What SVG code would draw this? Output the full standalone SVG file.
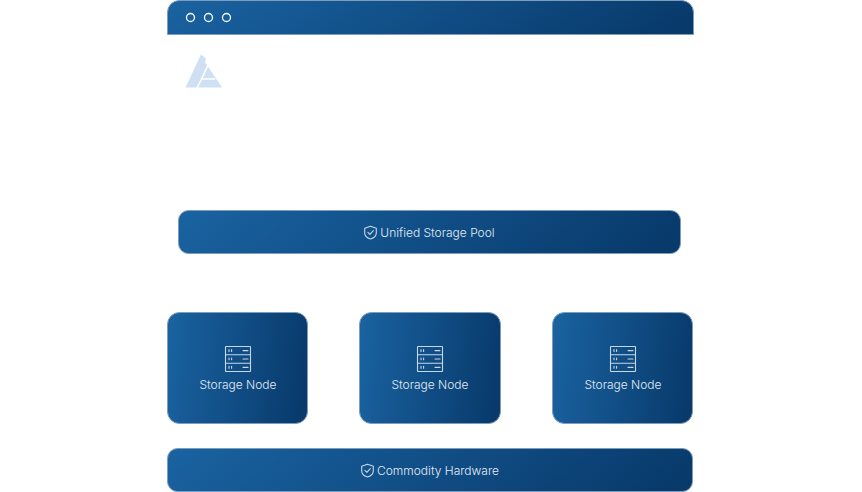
<svg xmlns="http://www.w3.org/2000/svg" width="862" height="492" viewBox="0 0 862 492">
<style>
.bar{fill:url(#g);stroke:#7e9dbd;stroke-width:1}
.ic{fill:none;stroke:#c5d8ea;stroke-width:1.1;stroke-linecap:round;stroke-linejoin:round}
.dot{fill:none;stroke:#fff;stroke-width:1.3}
.cut{fill:none;stroke:#fff;stroke-width:1.6}
text{font-family:Inter,"Liberation Sans",sans-serif;font-size:12px;font-weight:300;fill:#e2ecf6;text-anchor:middle}
</style>
<defs>
<linearGradient id="g" x1="0" y1="0.45" x2="1" y2="0.55"><stop offset="0" stop-color="#19619f"/><stop offset="1" stop-color="#083a6b"/></linearGradient>
<g id="srv" class="ic">
<rect x="0.5" y="0.5" width="25" height="25" rx="0.5"/>
<path d="M0.5 8.800H25.500M0.500 17.200H25.500M18 4.600H23M18 13H23M18 21.400H23M4 3.600V5.400M6.600 3.600V5.400M4 12V13.800M6.600 12V13.800M4 20.400V22.200M6.600 20.400V22.200"/>
</g>
<g id="sh" class="ic">
<path d="M7 0.800L12.800 2.800V7.400C12.800 10.400 10.200 12.400 7 13.500C3.800 12.400 1.200 10.400 1.200 7.400V2.800Z"/>
<path d="M4.400 6.800L6.400 8.800L9.800 5.200"/>
</g>
</defs>
<g id="connectors"/>
<g id="window">
<path class="bar" d="M167.500 34.500V12.500A12 12 0 0 1 179.500 .5H681.500A12 12 0 0 1 693.500 12.500V34.500Z"/>
<circle class="dot" cx="190.500" cy="17.500" r="4"/>
<circle class="dot" cx="208.500" cy="17.500" r="4"/>
<circle class="dot" cx="226.500" cy="17.500" r="4"/>
</g>
<g id="logo">
<path fill="#cfe0f2" d="M201 54.500L206 58.500L205 62L222 87.500H185.500Z"/>
<path class="cut" d="M197 88L202 78L209 63M202 79H215"/>
</g>
<g id="pool">
<rect class="bar" x="178.500" y="210.500" width="502" height="43" rx="10"/>
<use href="#sh" x="363.500" y="225.500"/>
<text x="437.500" y="237">Unified Storage Pool</text>
</g>
<g id="node1">
<rect class="bar" x="167.500" y="312.500" width="140" height="111" rx="12"/>
<use href="#srv" x="225" y="346"/>
<text x="238" y="389">Storage Node</text>
</g>
<g id="node2">
<rect class="bar" x="359.500" y="312.500" width="141" height="111" rx="12"/>
<use href="#srv" x="417" y="346"/>
<text x="430" y="389">Storage Node</text>
</g>
<g id="node3">
<rect class="bar" x="552.500" y="312.500" width="140" height="111" rx="12"/>
<use href="#srv" x="610" y="346"/>
<text x="623" y="389">Storage Node</text>
</g>
<g id="hardware">
<rect class="bar" x="167.500" y="448.500" width="525" height="43" rx="10"/>
<use href="#sh" x="360.500" y="463.500"/>
<text x="438" y="475">Commodity Hardware</text>
</g>
</svg>
